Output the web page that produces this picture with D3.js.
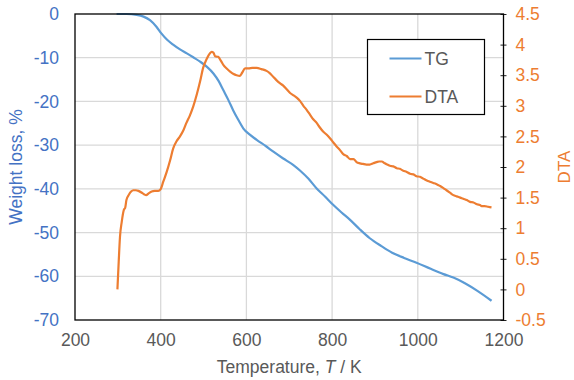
<!DOCTYPE html>
<html>
<head>
<meta charset="utf-8">
<script src="https://cdn.jsdelivr.net/npm/d3@7"></script>
<style>
  body { margin: 0; background: #fff; }
  svg { font-family: "Liberation Sans", Arial, sans-serif; }
</style>
</head>
<body>
<div id="chart"></div>
<script>
// TG curve (temperature K, weight loss %)
const tgTemp = [297, 320, 344, 360, 375, 390, 402, 415, 429, 445, 461, 476, 492, 508, 523, 535, 546, 558, 569, 581, 593, 608, 624, 645, 663, 685, 709, 725, 745, 764, 784, 803, 822, 842, 865, 888, 915, 940, 968, 997, 1030, 1060, 1083, 1110, 1140, 1172];
const tgVal = [0, 0, -0.2, -0.6, -1.4, -2.9, -4.5, -5.9, -7.0, -8.1, -9.0, -9.9, -10.9, -12.1, -13.6, -15.3, -17.4, -19.7, -22.0, -24.2, -26.2, -27.6, -28.8, -30.2, -31.5, -33.0, -34.5, -35.8, -37.7, -39.9, -41.8, -43.7, -45.4, -47.1, -49.3, -51.3, -53.1, -54.6, -55.8, -56.9, -58.3, -59.5, -60.3, -61.6, -63.4, -65.6];

// DTA curve (temperature K, DTA signal)
const dtaTemp = [299, 302, 305, 309, 314, 317, 320, 326, 331, 336, 342, 348, 356, 362, 366, 372, 379, 386, 394, 400, 406, 414, 422, 429, 437, 445, 453, 460, 468, 476, 484, 492, 499, 507, 515, 519, 523, 527, 534, 541, 547, 554, 562, 570, 577, 585, 590, 597, 605, 614, 624, 635, 647, 655, 663, 670, 678, 686, 694, 702, 710, 718, 725, 733, 741, 748, 756, 764, 771, 779, 787, 795, 803, 810, 818, 826, 834, 842, 850, 857, 865, 872, 880, 888, 896, 904, 910, 916, 923, 929, 935, 943, 951, 958, 966, 974, 982, 990, 997, 1005, 1013, 1021, 1028, 1036, 1044, 1052, 1059, 1067, 1075, 1083, 1091, 1099, 1106, 1114, 1122, 1130, 1138, 1145, 1149, 1156, 1164, 1172];
const dtaVal = [0.0, 0.45, 0.86, 1.10, 1.30, 1.33, 1.46, 1.55, 1.60, 1.62, 1.62, 1.61, 1.58, 1.55, 1.54, 1.57, 1.60, 1.61, 1.61, 1.64, 1.76, 1.92, 2.11, 2.30, 2.42, 2.50, 2.60, 2.72, 2.84, 2.99, 3.18, 3.40, 3.62, 3.76, 3.86, 3.88, 3.87, 3.81, 3.80, 3.73, 3.66, 3.61, 3.56, 3.52, 3.50, 3.49, 3.54, 3.61, 3.61, 3.62, 3.62, 3.60, 3.57, 3.53, 3.47, 3.42, 3.37, 3.33, 3.27, 3.21, 3.17, 3.13, 3.08, 3.00, 2.93, 2.86, 2.78, 2.72, 2.65, 2.58, 2.53, 2.47, 2.40, 2.34, 2.28, 2.21, 2.18, 2.13, 2.13, 2.08, 2.06, 2.05, 2.04, 2.04, 2.06, 2.08, 2.09, 2.09, 2.06, 2.04, 2.02, 2.01, 1.98, 1.97, 1.94, 1.92, 1.89, 1.88, 1.85, 1.84, 1.81, 1.78, 1.76, 1.74, 1.72, 1.69, 1.66, 1.62, 1.58, 1.54, 1.52, 1.50, 1.48, 1.46, 1.43, 1.42, 1.39, 1.38, 1.36, 1.36, 1.35, 1.34];

const xTicks = [200, 400, 600, 800, 1000, 1200];
const yLeftTicks = [0, -10, -20, -30, -40, -50, -60, -70];
const yRightTicks = [4.5, 4, 3.5, 3, 2.5, 2, 1.5, 1, 0.5, 0, -0.5];

const width = 574, height = 380;
const margin = {top: 14, right: 70.5, bottom: 60, left: 75};
const innerW = width - margin.left - margin.right;
const innerH = height - margin.top - margin.bottom;

const blue = "#5B9BD5", orange = "#ED7D31", blueText = "#4472C4", grey = "#595959";
const plain = d => String(d); // keep ASCII hyphen and no thousands separator

const svg = d3.select("#chart").append("svg")
    .attr("width", width)
    .attr("height", height);

const g = svg.append("g").attr("transform", `translate(${margin.left},${margin.top})`);

const x = d3.scaleLinear().domain([200, 1200]).range([0, innerW]);
const yL = d3.scaleLinear().domain([-70, 0]).range([innerH, 0]);
const yR = d3.scaleLinear().domain([-0.5, 4.5]).range([innerH, 0]);

// grid lines
g.append("g").selectAll("line")
    .data(xTicks.slice(1, -1))
    .enter().append("line")
    .attr("x1", d => x(d)).attr("x2", d => x(d))
    .attr("y1", 0).attr("y2", innerH)
    .attr("stroke", "#d9d9d9").attr("stroke-width", 1.3);

g.append("g").selectAll("line")
    .data(yLeftTicks.slice(1, -1))
    .enter().append("line")
    .attr("x1", 0).attr("x2", innerW)
    .attr("y1", d => yL(d)).attr("y2", d => yL(d))
    .attr("stroke", "#d9d9d9").attr("stroke-width", 1.3);

// axes
const xAxis = g.append("g")
    .attr("transform", `translate(0,${innerH})`)
    .call(d3.axisBottom(x).tickValues(xTicks).tickSize(0).tickPadding(14).tickFormat(plain));

const yAxisL = g.append("g")
    .call(d3.axisLeft(yL).tickValues(yLeftTicks).tickSize(0).tickPadding(16).tickFormat(plain));

const yAxisR = g.append("g")
    .attr("transform", `translate(${innerW - 3},0)`)
    .call(d3.axisRight(yR).tickValues(yRightTicks).tickSize(6).tickPadding(9).tickFormat(plain));

[xAxis, yAxisL, yAxisR].forEach(a => a.select(".domain").remove());
xAxis.selectAll("text").attr("fill", grey).style("font-size", "17.5px");
yAxisL.selectAll("text").attr("fill", blueText).style("font-size", "17.5px");
yAxisR.selectAll("text").attr("fill", orange).style("font-size", "17.5px");
yAxisR.selectAll("line").attr("stroke", "#222");

// curves
const line = d3.line().curve(d3.curveMonotoneX);

g.append("path")
    .attr("d", line.x((d, i) => x(tgTemp[i])).y(d => yL(d))(tgVal))
    .attr("fill", "none").attr("stroke", blue).attr("stroke-width", 2.2);

g.append("path")
    .attr("d", line.x((d, i) => x(dtaTemp[i])).y(d => yR(d))(dtaVal))
    .attr("fill", "none").attr("stroke", orange).attr("stroke-width", 2.2);

// plot border
g.append("rect")
    .attr("width", innerW).attr("height", innerH)
    .attr("fill", "none").attr("stroke", "#000").attr("stroke-width", 1.3);

// axis titles
svg.append("text")
    .attr("x", margin.left + innerW / 2).attr("y", 373)
    .attr("text-anchor", "middle").attr("fill", grey).style("font-size", "17.5px")
    .html('Temperature, <tspan font-style="italic">T</tspan> / K');

svg.append("text")
    .attr("transform", `translate(22,${margin.top + innerH / 2}) rotate(-90)`)
    .attr("text-anchor", "middle").attr("fill", blueText).style("font-size", "17.5px")
    .text("Weight loss, %");

svg.append("text")
    .attr("transform", `translate(570,${margin.top + innerH / 2}) rotate(-90)`)
    .attr("text-anchor", "middle").attr("fill", orange).style("font-size", "17px")
    .text("DTA");

// legend
const legend = svg.append("g").attr("transform", "translate(367.5,39.5)");
legend.append("rect")
    .attr("width", 117).attr("height", 75)
    .attr("fill", "#fff").attr("stroke", "#000").attr("stroke-width", 1.2);

const legendItems = [{name: "TG", color: blue, y: 19}, {name: "DTA", color: orange, y: 57}];
legendItems.forEach(it => {
    legend.append("line")
        .attr("x1", 22).attr("x2", 54).attr("y1", it.y).attr("y2", it.y)
        .attr("stroke", it.color).attr("stroke-width", 2.2);
    legend.append("text")
        .attr("x", 57).attr("y", it.y).attr("dy", "0.35em")
        .attr("fill", grey).style("font-size", "17.5px")
        .text(it.name);
});
</script>
</body>
</html>
